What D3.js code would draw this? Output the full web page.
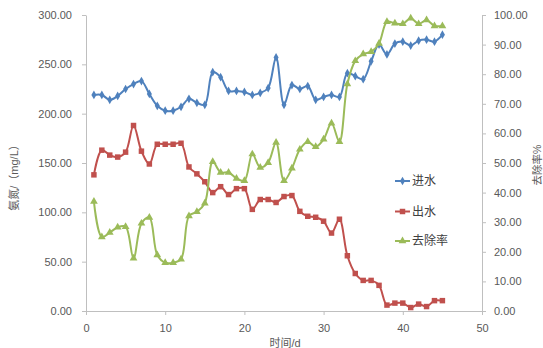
<!DOCTYPE html>
<html><head><meta charset="utf-8">
<script src="https://cdn.jsdelivr.net/npm/d3@7"></script>
<style>
html,body{margin:0;padding:0;background:#fff;}
svg{display:block;font-family:"Liberation Sans","Noto Sans CJK SC",sans-serif;}
</style></head>
<body>
<script>
const days = d3.range(1, 46);
const inflow = [219,219,214,218,225,230,233,220,208,203,203,207,215,211,209,242,237,223,223,222,219,221,226,257,209,229,225,228,214,217,219,217,241,238,235,253,270,260,271,273,269,274,275,273,280];
const outflow = [138,163,158,156,161,188,162,149,169,169,169,170,146,139,131,120,126,118,124,124,103,113,113,110,116,117,101,96,95,91,79,93,56,38,31,31,26,6,8,8,3.5,7,4.5,10.5,10.5];
const removal = [37,25,26.5,28.3,28.5,17.8,29.6,31.6,18.9,16.3,16.3,17.5,32.1,33.5,36.4,50.4,46.8,46.8,44.8,44,53,48.5,50.1,56.9,44,48.2,54.6,57.2,55.5,58,63.4,57.2,76.7,84.5,86.8,87.6,90.4,97.7,97.2,97,98.9,97,98.3,96.3,96.3];
const leftTicks = [0,50,100,150,200,250,300];
const rightTicks = [0,10,20,30,40,50,60,70,80,90,100];
const xTicks = [0,10,20,30,40,50];
const seriesNames = ["进水","出水","去除率"];
const leftTitle = "氨氮/（mg/L）";
const rightTitle = "去除率%";
const xTitle = "时间/d";

const W = 543, H = 348;
const svg = d3.select("body").append("svg").attr("width", W).attr("height", H);
const x = d3.scaleLinear().domain([0,50]).range([86,482]);
const yL = d3.scaleLinear().domain([0,300]).range([311,15]);
const yR = d3.scaleLinear().domain([0,100]).range([311,15]);
const axisColor = "#bfbfbf", textColor = "#595959";

function styleAxis(g){
  g.select(".domain").attr("stroke", axisColor);
  g.selectAll(".tick line").attr("stroke", axisColor);
  g.selectAll(".tick text").attr("fill", textColor).attr("font-size", 11);
}
svg.append("g").attr("transform","translate(0,311)")
  .call(d3.axisBottom(x).tickValues(xTicks).tickSize(4).tickSizeOuter(0).tickPadding(9).tickFormat(d3.format("d")))
  .call(styleAxis);
svg.append("g").attr("transform","translate(86,0)")
  .call(d3.axisLeft(yL).tickValues(leftTicks).tickSize(4).tickSizeOuter(0).tickPadding(10).tickFormat(d3.format(".2f")))
  .call(styleAxis);
svg.append("g").attr("transform","translate(482,0)")
  .call(d3.axisRight(yR).tickValues(rightTicks).tickSize(4).tickSizeOuter(0).tickPadding(8).tickFormat(d3.format(".2f")))
  .call(styleAxis);

svg.append("text").attr("transform","translate(18,175) rotate(-90)").attr("text-anchor","middle")
  .attr("font-size",11).attr("fill",textColor).text(leftTitle);
svg.append("text").attr("transform","translate(540.5,165) rotate(-90)").attr("text-anchor","middle")
  .attr("font-size",10.5).attr("fill",textColor).text(rightTitle);
svg.append("text").attr("x",285).attr("y",347).attr("text-anchor","middle")
  .attr("font-size",11).attr("fill",textColor).text(xTitle);

const colors = ["#4F81BD","#C0504D","#9BBB59"];
const series = [
  {vals: inflow, y: yL, shape: d3.symbolDiamond, size: 22},
  {vals: outflow, y: yL, shape: d3.symbolSquare, size: 30},
  {vals: removal, y: yR, shape: d3.symbolTriangle, size: 26}
];
series.forEach((s,i)=>{
  const pts = days.map((d,j)=>[x(d), s.y(s.vals[j])]);
  svg.append("path").attr("d", d3.line().curve(d3.curveCatmullRom.alpha(0.5))(pts))
    .attr("fill","none").attr("stroke",colors[i]).attr("stroke-width",2);
  svg.append("g").selectAll("path").data(pts).join("path")
    .attr("transform",p=>`translate(${p[0]},${p[1]})`)
    .attr("d", d3.symbol().type(s.shape).size(s.size)).attr("fill",colors[i]);
});

const legY = [181, 211.5, 241];
seriesNames.forEach((n,i)=>{
  const g = svg.append("g");
  g.append("line").attr("x1",395).attr("x2",410).attr("y1",legY[i]).attr("y2",legY[i])
    .attr("stroke",colors[i]).attr("stroke-width",2);
  g.append("path").attr("transform",`translate(402.5,${legY[i]})`)
    .attr("d", d3.symbol().type(series[i].shape).size(series[i].size)).attr("fill",colors[i]);
  g.append("text").attr("x",412).attr("y",legY[i]).attr("dy","0.36em")
    .attr("font-size",12).attr("fill","#404040").text(n);
});
</script>
</body></html>
